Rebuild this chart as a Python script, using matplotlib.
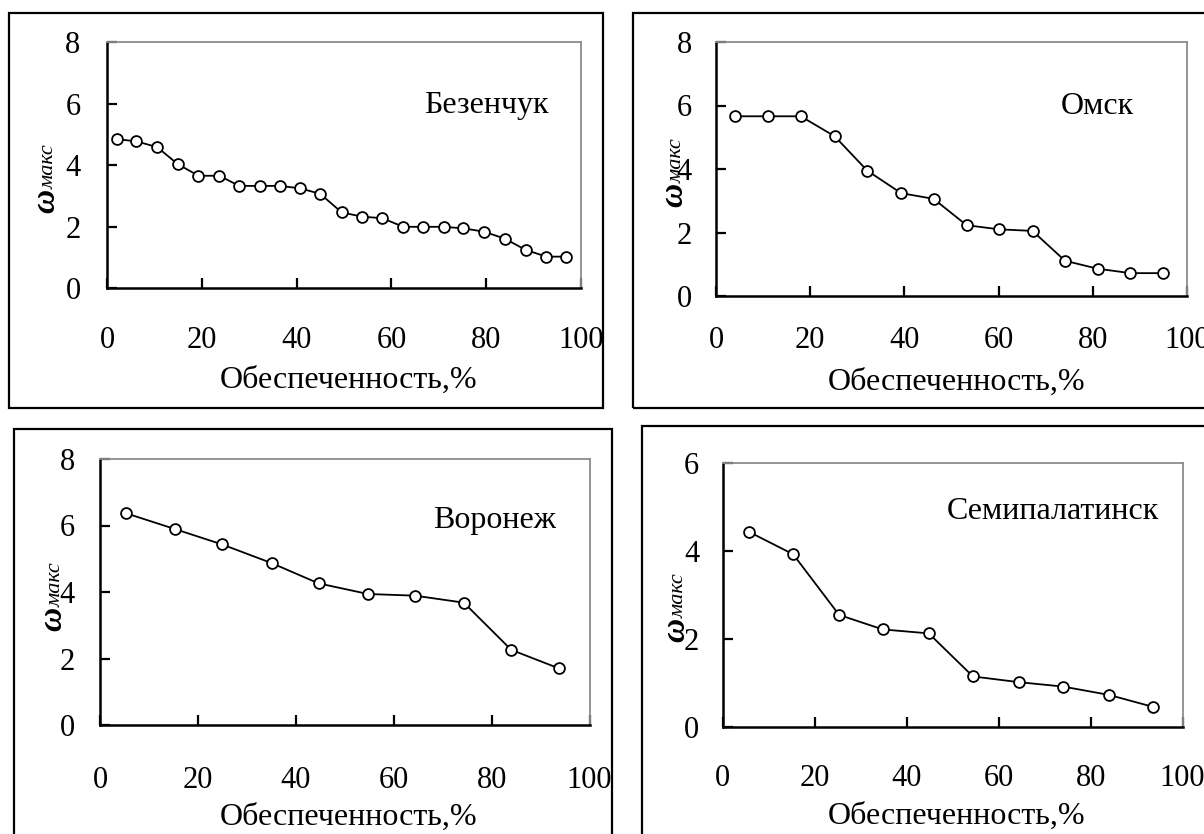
import matplotlib
matplotlib.use("Agg")
import matplotlib.pyplot as plt
from matplotlib.patches import Rectangle

plt.rcParams['font.family'] = ['Liberation Serif', 'DejaVu Serif']

W, H = 1204, 834

# ---------------- data ----------------
titles = ["Безенчук", "Омск", "Воронеж", "Семипалатинск"]
xlabel_text = "Обеспеченность,%"
x_ticks = [0, 20, 40, 60, 80, 100]

x_bez = [2.1, 6.2, 10.6, 14.9, 19.3, 23.7, 27.9, 32.2, 36.5, 40.8, 45.0, 49.5,
         53.8, 58.1, 62.5, 66.7, 71.0, 75.2, 79.6, 84.0, 88.3, 92.7, 96.9]
y_bez = [4.84, 4.77, 4.58, 4.03, 3.65, 3.65, 3.32, 3.32, 3.32, 3.24, 3.06, 2.46,
         2.32, 2.27, 1.99, 1.99, 1.99, 1.94, 1.83, 1.60, 1.24, 1.02, 1.02]

x_omsk = [4.1, 11.0, 18.0, 25.2, 32.1, 39.3, 46.2, 53.2, 60.1, 67.2, 74.1, 81.0, 88.0, 95.0]
y_omsk = [5.66, 5.66, 5.66, 5.03, 3.95, 3.24, 3.06, 2.23, 2.10, 2.05, 1.11, 0.86, 0.72, 0.72]

x_vor = [5.2, 15.3, 24.9, 35.0, 44.6, 54.7, 64.3, 74.3, 84.0, 93.8]
y_vor = [6.37, 5.89, 5.43, 4.87, 4.26, 3.94, 3.89, 3.68, 2.26, 1.70]

x_sem = [5.7, 15.3, 25.3, 34.8, 44.8, 54.4, 64.4, 74.0, 84.0, 93.5]
y_sem = [4.44, 3.93, 2.55, 2.22, 2.13, 1.15, 1.02, 0.92, 0.73, 0.46]

series_x = [x_bez, x_omsk, x_vor, x_sem]
series_y = [y_bez, y_omsk, y_vor, y_sem]
y_max = [8, 8, 8, 6]

# ---------------- layout (pixels) ----------------
axes_px = [(107, 42, 581, 288), (716, 42, 1187, 296),
           (100.4, 459, 589.5, 725), (722.8, 463.3, 1182.6, 727)]
frames_px = [(9, 13, 603, 408), (633, 13, 1215, 408),
             (14, 429, 612, 845), (642, 426, 1215, 845)]
title_pos = [(0.80, 0.74), (0.809, 0.746), (0.805, 0.767), (0.718, 0.818)]
xlab_pos = [(0.509, -0.374), (0.51, -0.341), (0.507, -0.346), (0.509, -0.340)]
xpad = [27.5, 21.5, 29.5, 27.0]
ypad = [19.0, 17.5, 18.5, 17.0]
ylab_anchor = [(54, 189), (682, 183), (61, 607), (684, 618)]

fig = plt.figure(figsize=(W / 100, H / 100), dpi=100)
fig.patch.set_facecolor('white')

def fx(px):
    return px / W

def fy(py):
    return 1 - py / H

for (x0, y0, x1, y1) in frames_px:
    fig.patches.append(Rectangle((fx(x0), fy(y1)), (x1 - x0) / W, (y1 - y0) / H,
                                 transform=fig.transFigure, fill=False,
                                 lw=1.6, ec='black', zorder=0))

for i in range(4):
    l, t, r, b = axes_px[i]
    ax = fig.add_axes([fx(l), fy(b), (r - l) / W, (b - t) / H])
    ax.plot(series_x[i], series_y[i], color='black', lw=1.3, marker='o',
            markersize=7.8, markerfacecolor='white', markeredgecolor='black',
            markeredgewidth=1.3, clip_on=False, zorder=3)
    ax.set_xlim(0, 100)
    ax.set_ylim(0, y_max[i])
    ax.set_xticks(x_ticks)
    ax.set_yticks(list(range(0, y_max[i] + 1, 2)))
    for s in ['left', 'bottom']:
        ax.spines[s].set_color('black')
        ax.spines[s].set_linewidth(1.8)
    for s in ['top', 'right']:
        ax.spines[s].set_color('#8c8c8c')
        ax.spines[s].set_linewidth(1.3)
    ax.tick_params(axis='x', direction='in', length=7, width=1.6,
                   labelsize=22, pad=xpad[i], top=False)
    ax.tick_params(axis='y', direction='in', length=7, width=1.6,
                   labelsize=22, pad=ypad[i], right=False)
    ax.text(title_pos[i][0], title_pos[i][1], titles[i], transform=ax.transAxes,
            ha='center', va='center', fontsize=23)
    ax.set_xlabel(xlabel_text, fontsize=23)
    ax.xaxis.set_label_coords(*xlab_pos[i])
    ax.xaxis.label.set_va('center')
    bx, by = ylab_anchor[i]
    fig.text(fx(bx), fy(by), "ω", rotation=90, rotation_mode='anchor',
             ha='right', va='baseline', fontsize=24, fontstyle='italic',
             fontweight='bold')
    fig.text(fx(bx), fy(by), "макс", rotation=90, rotation_mode='anchor',
             ha='left', va='baseline', fontsize=16, fontstyle='italic')

fig.savefig("out.png", dpi=100, facecolor='white')
